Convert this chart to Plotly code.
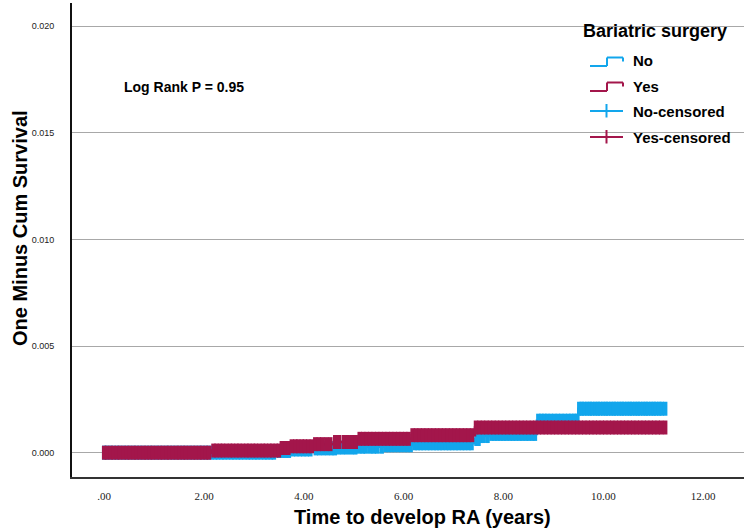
import numpy as np
import plotly.graph_objects as go

# ---------------- data ----------------
x_tick_vals = [0, 2, 4, 6, 8, 10, 12]
x_tick_text = [".00", "2.00", "4.00", "6.00", "8.00", "10.00", "12.00"]
y_tick_vals = [0.0, 0.005, 0.010, 0.015, 0.020]
y_tick_text = ["0.000", "0.005", "0.010", "0.015", "0.020"]

# "No" group (no bariatric surgery): event times and 1 - cum survival after each step
no_times = [0.0, 3.45, 3.72, 4.20, 4.65, 5.09, 5.63, 6.19, 7.43, 7.53, 7.73, 8.67, 9.50, 11.24]
no_values = [0.0, 0.00008, 0.00015, 0.00020, 0.00024, 0.00028, 0.00035, 0.00044,
             0.00064, 0.00078, 0.00088, 0.00150, 0.00206, 0.00206]

# "Yes" group (bariatric surgery)
yes_times = [0.0, 2.16, 3.52, 3.72, 4.19, 4.60, 5.09, 6.16, 7.43, 11.24]
yes_values = [0.0, 0.00010, 0.00022, 0.00030, 0.00040, 0.00050, 0.00065, 0.00082,
              0.00118, 0.00118]

# censoring times
no_censor = [0.00, 0.04, 0.11, 0.17, 0.24, 0.30, 0.37, 0.43, 0.50, 0.57, 0.63, 0.70, 0.76,
             0.83, 0.90, 0.96, 1.03, 1.09, 1.16, 1.23, 1.29, 1.36, 1.42, 1.49, 1.56, 1.62,
             1.69, 1.75, 1.82, 1.89, 1.95, 2.02, 2.08, 2.15, 2.22, 2.28, 2.35, 2.41, 2.48,
             2.55, 2.61, 2.68, 2.74, 2.81, 2.88, 2.94, 3.01, 3.07, 3.14, 3.21, 3.27, 3.34,
             3.40, 3.50, 3.57, 3.64, 3.70, 3.78, 3.85, 3.92, 3.99, 4.06, 4.13, 4.24, 4.31,
             4.39, 4.47, 4.55, 4.62, 4.70, 4.78, 4.86, 4.95, 5.03, 5.11, 5.18, 5.24, 5.33,
             5.40, 5.47, 5.56, 5.64, 5.70, 5.76, 5.82, 5.89, 5.95, 6.02, 6.08, 6.14, 6.22,
             6.28, 6.34, 6.40, 6.47, 6.53, 6.60, 6.66, 6.72, 6.78, 6.85, 6.91, 6.97, 7.04,
             7.10, 7.17, 7.23, 7.30, 7.36, 7.46, 7.50, 7.56, 7.60, 7.68, 7.76, 7.82, 7.88,
             7.94, 8.00, 8.06, 8.13, 8.19, 8.25, 8.32, 8.38, 8.45, 8.51, 8.58, 8.63, 8.70,
             8.76, 8.82, 8.88, 8.95, 9.02, 9.09, 9.16, 9.23, 9.30, 9.36, 9.42, 9.47,
             9.52, 9.57, 9.62, 9.68, 9.73, 9.78, 9.84, 9.89, 9.94, 10.00,
             10.05, 10.10, 10.16, 10.21, 10.26, 10.32, 10.37, 10.42, 10.48, 10.53, 10.58,
             10.64, 10.69, 10.74, 10.80, 10.85, 10.90, 10.96, 11.01, 11.06, 11.12, 11.17,
             11.24]

yes_censor = [0.00, 0.06, 0.13, 0.19, 0.26, 0.32, 0.39, 0.46, 0.52, 0.59, 0.65, 0.72, 0.79,
              0.85, 0.92, 0.98, 1.05, 1.12, 1.18, 1.25, 1.31, 1.38, 1.45, 1.51, 1.58, 1.64,
              1.71, 1.78, 1.84, 1.91, 1.97, 2.04, 2.10, 2.19, 2.25, 2.32, 2.38, 2.45, 2.52,
              2.58, 2.65, 2.71, 2.78, 2.85, 2.91, 2.98, 3.04, 3.11, 3.18, 3.24, 3.31, 3.37,
              3.44, 3.50, 3.56, 3.63, 3.69, 3.76, 3.83, 3.89, 3.96, 4.02, 4.09, 4.16, 4.23,
              4.30, 4.37, 4.45, 4.53, 4.63, 4.70, 4.80, 4.88, 4.97, 5.04, 5.12, 5.19, 5.26,
              5.33, 5.40, 5.47, 5.54, 5.61, 5.68, 5.75, 5.82, 5.89, 5.96, 6.03, 6.10, 6.18,
              6.25, 6.32, 6.39, 6.46, 6.53, 6.60, 6.67, 6.74, 6.81, 6.88, 6.95, 7.02, 7.09,
              7.16, 7.23, 7.30, 7.37, 7.45, 7.52, 7.59, 7.66, 7.73, 7.80, 7.87, 7.94, 8.01,
              8.08, 8.15, 8.22, 8.29, 8.36, 8.43, 8.50, 8.57, 8.64, 8.71, 8.78, 8.85, 8.92,
              8.99, 9.06, 9.13, 9.20, 9.27, 9.34, 9.41, 9.48, 9.55, 9.62, 9.69, 9.76, 9.83,
              9.90, 9.97, 10.04, 10.11, 10.18, 10.25, 10.32, 10.39, 10.46, 10.53, 10.60,
              10.67, 10.74, 10.81, 10.88, 10.95, 11.02, 11.09, 11.16, 11.24]

legend_title = "Bariatric surgery"
legend_labels = ["No", "Yes", "No-censored", "Yes-censored"]
log_rank_text = "Log Rank P = 0.95"
x_title = "Time to develop RA (years)"
y_title = "One Minus Cum Survival"

# ---------------- style ----------------
BLUE = "#12a6ec"
RED = "#a3164b"
GRID = "#a8a8a8"
W, H = 750, 532
ML, MR, MT, MB = 72, 6, 3, 55


def step_lookup(times, values, t):
    idx = np.searchsorted(np.array(times), np.array(t), side="right") - 1
    idx = np.clip(idx, 0, len(values) - 1)
    return list(np.array(values)[idx])


def px_x(px):
    return (px - ML) / (W - ML - MR)


def px_y(py):
    return (H - MB - py) / (H - MT - MB)


fig = go.Figure()

for times, values, cens, color, name in [
    (no_times, no_values, no_censor, BLUE, "No"),
    (yes_times, yes_values, yes_censor, RED, "Yes"),
]:
    fig.add_trace(go.Scatter(
        x=times, y=values, mode="lines", line=dict(color=color, width=2.5, shape="hv"),
        showlegend=False, name=name, hoverinfo="skip"))
    fig.add_trace(go.Scatter(
        x=cens, y=step_lookup(times, values, cens), mode="markers",
        marker=dict(symbol="line-ns", size=10, line=dict(color=color, width=4.5)),
        showlegend=False, name=name + "-censored", hoverinfo="skip"))

# ---------------- layout ----------------
fig.update_layout(
    width=W, height=H,
    margin=dict(l=ML, r=MR, t=MT, b=MB, pad=0),
    paper_bgcolor="white", plot_bgcolor="white",
    showlegend=False,
    font=dict(family="Liberation Sans", color="black"),
    xaxis=dict(
        range=[-0.645, 12.82], showgrid=False, zeroline=False,
        showline=True, linecolor="#333333", linewidth=2,
        tickvals=x_tick_vals, ticktext=x_tick_text, ticks="",
        tickfont=dict(family="Liberation Serif", size=11, color="#222222"),
        ticklabelstandoff=8,
    ),
    yaxis=dict(
        range=[-0.00114, 0.02108], showgrid=True, gridcolor=GRID, gridwidth=1,
        zeroline=True, zerolinecolor=GRID, zerolinewidth=1,
        showline=True, linecolor="#111111", linewidth=2,
        tickvals=y_tick_vals, ticktext=y_tick_text, ticks="",
        tickfont=dict(family="Liberation Sans", size=9, color="#222222"),
        ticklabelstandoff=14,
    ),
)

annotations = [
    dict(text="<b>" + log_rank_text + "</b>", x=px_x(122), y=px_y(87), xanchor="left",
         yanchor="middle",
         font=dict(size=14, family="Liberation Sans", color="black"), showarrow=False,
         xref="paper", yref="paper"),
    dict(text="<b>" + x_title + "</b>", x=px_x(422), y=px_y(517), xanchor="center",
         yanchor="middle", font=dict(size=20, color="black"), showarrow=False,
         xref="paper", yref="paper"),
    dict(text="<b>" + y_title + "</b>", x=px_x(20), y=px_y(228), xanchor="center",
         yanchor="middle", textangle=-90, font=dict(size=20, color="black"),
         showarrow=False, xref="paper", yref="paper"),
    dict(text="<b>" + legend_title + "</b>", x=px_x(581), y=px_y(31), xanchor="left",
         yanchor="middle", font=dict(size=18, color="black"), showarrow=False,
         xref="paper", yref="paper"),
]
legend_y = [61, 87, 112, 138]
for lab, ly in zip(legend_labels, legend_y):
    annotations.append(dict(text="<b>" + lab + "</b>", x=px_x(631), y=px_y(ly),
                            xanchor="left", yanchor="middle",
                            font=dict(size=15, color="black"), showarrow=False,
                            xref="paper", yref="paper"))
fig.update_layout(annotations=annotations)

shapes = [
    # white legend box hiding gridlines
    dict(type="rect", xref="paper", yref="paper", x0=px_x(568), x1=px_x(747),
         y0=px_y(148), y1=px_y(14), fillcolor="white", line=dict(width=0), layer="between"),
]


def line(x0, y0, x1, y1, color):
    return dict(type="line", xref="paper", yref="paper", x0=px_x(x0), y0=px_y(y0),
                x1=px_x(x1), y1=px_y(y1), line=dict(color=color, width=2), layer="above")


for ly, color in [(61, BLUE), (86, RED)]:
    lo, hi = ly + 5, ly - 3.5
    shapes += [line(590, lo, 607, lo, color), line(607, lo, 607, hi, color),
               line(607, hi, 623, hi, color), line(623, hi, 623, ly + 0.5, color)]
for ly, color in [(111, BLUE), (137, RED)]:
    shapes += [line(590, ly, 623, ly, color), line(606.5, ly - 7, 606.5, ly + 6.5, color)]
fig.update_layout(shapes=shapes)

fig.write_html("out.html")
